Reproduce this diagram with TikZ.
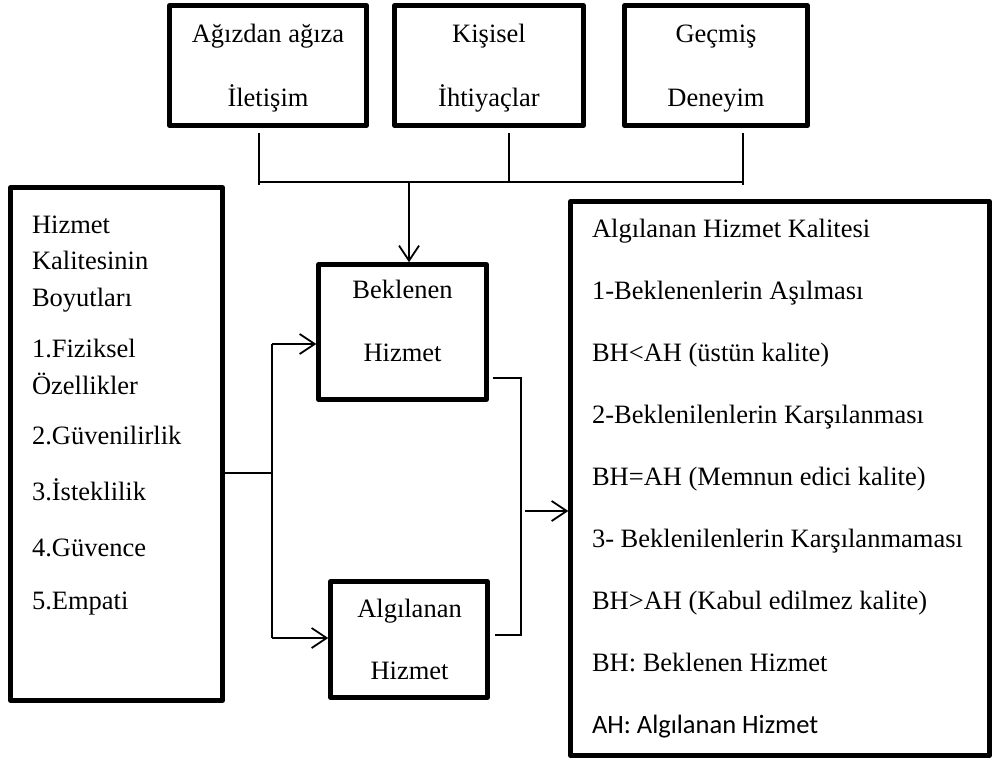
\documentclass[tikz,border=0pt]{standalone}
\usepackage{fontspec}
\setmainfont{Liberation Serif}
\newfontfamily\calibri{Carlito}
\usetikzlibrary{arrows.meta}

\begin{document}
\begin{tikzpicture}[x=1pt,y=-1pt,
  box/.style={draw, line width=4.5pt, line join=round, rectangle,
    inner sep=0pt, outer sep=0pt, anchor=north west},
  link/.style={line width=1.6pt},
  arr/.style={link, -{Straight Barb[length=15pt,width=20pt,line width=1.8pt]}},
  txt/.style={inner sep=0pt, outer sep=0pt, font=\fontsize{26.5}{64}\selectfont}]

\useasboundingbox (0,0) rectangle (994,762);

% top row: sources of expectations
\node[box, minimum width=197pt, minimum height=120pt] (agiz) at (169.5,5.5) {};
\node[box, minimum width=189pt, minimum height=120pt] (kisi) at (394.5,5.5) {};
\node[box, minimum width=183pt, minimum height=120pt] (gecmis) at (624.5,5.5) {};
\node[txt, align=center] (agiztxt) at (268,68.5) {Ağızdan ağıza\\İletişim};
\node[txt, align=center] (kisitxt) at (489,68.5) {Kişisel\\İhtiyaçlar};
\node[txt, align=center] (gecmistxt) at (716,68.5) {Geçmiş\\Deneyim};

% dimensions of service quality
\node[box, minimum width=212pt, minimum height=513pt] (boyut) at (10.5,187.5) {};
\node[txt, align=left, anchor=north west, font=\fontsize{26.5}{36.5}\selectfont]
  (boyuttxt) at (32,215.5)
  {Hizmet\\Kalitesinin\\Boyutları\\[15pt]1.Fiziksel\\Özellikler\\[14pt]2.Güvenilirlik\\[19pt]3.İsteklilik\\[20pt]4.Güvence\\[16pt]5.Empati};

% expected and perceived service
\node[box, minimum width=168pt, minimum height=135pt] (bek) at (318.5,264.5) {};
\node[txt, align=center, font=\fontsize{26.5}{63}\selectfont] (bektxt) at (402.5,321) {Beklenen\\Hizmet};
\node[box, minimum width=157pt, minimum height=116pt] (alg) at (330.5,581.5) {};
\node[txt, align=center, font=\fontsize{26.5}{62}\selectfont] (algtxt) at (409.5,639) {Algılanan\\Hizmet};

% perceived service quality
\node[box, minimum width=419pt, minimum height=554pt] (kalite) at (570.5,201.5) {};
\node[txt, align=left, anchor=north west, font=\fontsize{26.5}{62}\selectfont]
  (kalitetxt) at (592,219)
  {Algılanan Hizmet Kalitesi\\1-Beklenenlerin Aşılması\\BH<AH (üstün kalite)\\2-Beklenilenlerin Karşılanması\\BH=AH (Memnun edici kalite)\\3- Beklenilenlerin Karşılanmaması\\BH>AH (Kabul edilmez kalite)\\BH: Beklenen Hizmet\\{\calibri AH: Algılanan Hizmet}};

% bus from the top row down to the expected service
\coordinate (d1) at (259,133);
\coordinate (d2) at (509,133);
\coordinate (d3) at (743,133);
\coordinate (e1) at (259,185);
\coordinate (e3) at (743,185);
\coordinate (b1) at (259,182);
\coordinate (b2) at (509,182);
\coordinate (b3) at (743,182);
\coordinate (bm) at (409,182);
\draw[link] (d1) -- (e1);
\draw[link] (d2) -- (b2);
\draw[link] (d3) -- (e3);
\draw[link] (b1) -- (b3);
\draw[arr, shorten >=2.25pt] (bm) -- (bm |- bek.north);

% dimensions feed both services
\coordinate (j) at (272,473);
\coordinate (t1) at (272,344);
\coordinate (t2) at (272,638);
\draw[link] (boyut.east |- j) -- (j);
\draw[link] (t1) -- (t2);
\draw[arr, shorten >=2.25pt] (t1) -- (t1 -| bek.west);
\draw[arr, shorten >=2.25pt] (t2) -- (t2 -| alg.west);

% both services compared into perceived quality
\coordinate (r1) at (521,378);
\coordinate (r2) at (521,635);
\coordinate (r3) at (521,511);
\draw[link, shorten <=6pt, shorten >=7pt] (bek.east |- r1) -- (r1) -- (r2) -- (alg.east |- r2);
\draw[arr, shorten <=4pt, shorten >=2.25pt] (r3) -- (r3 -| kalite.west);

\end{tikzpicture}
\end{document}
